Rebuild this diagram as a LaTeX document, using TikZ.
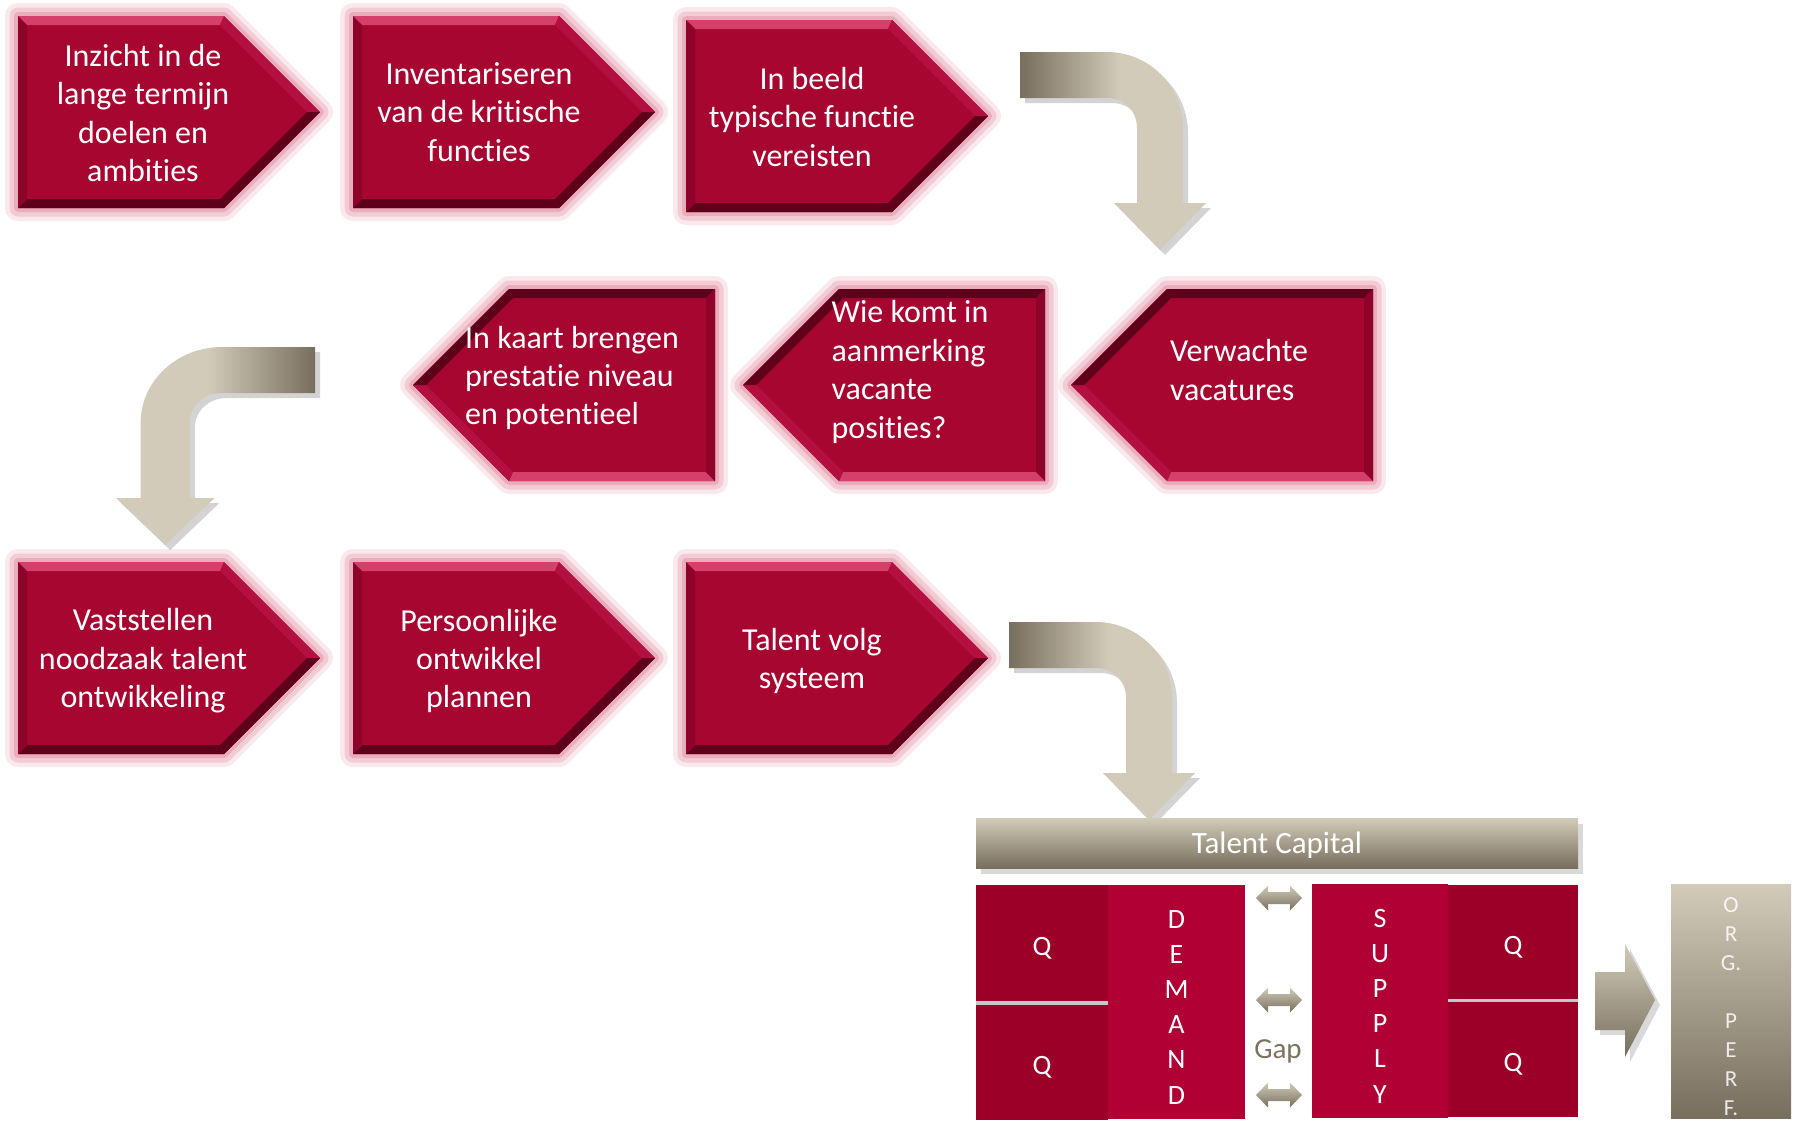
\documentclass[tikz,border=0pt]{standalone}
\usepackage{fontspec}
\setmainfont{Carlito}[Ligatures=NoCommon]
\usetikzlibrary{shadows}

\definecolor{stepred}{HTML}{A60630}
\definecolor{steplight}{HTML}{D4406A}
\definecolor{stepmid}{HTML}{B3103F}
\definecolor{stepdark}{HTML}{5E0019}
\definecolor{stepedge}{HTML}{8E0329}
\definecolor{glowpink}{HTML}{DF8096}
\definecolor{tandark}{HTML}{776E5D}
\definecolor{tanlight}{HTML}{D3CBBA}
\definecolor{qred}{HTML}{9C0029}
\definecolor{colred}{HTML}{B00034}
\definecolor{gaptext}{HTML}{7A715F}

\pgfdeclarehorizontalshading{bendshade}{100bp}{color(0bp)=(tandark); color(25bp)=(tandark); color(52bp)=(tanlight); color(75bp)=(tanlight); color(100bp)=(tanlight)}

\begin{document}
\begin{tikzpicture}[x=1pt, y=-1pt]
        \tikzstyle{glow} = [preaction={draw=glowpink, line width=26pt, line join=round, draw opacity=0.18},
                            preaction={draw=glowpink, line width=17pt, line join=round, draw opacity=0.28},
                            preaction={draw=glowpink, line width=8pt, line join=round, draw opacity=0.4}]
        \tikzstyle{steptext} = [text=white, inner sep=0pt, font=\fontsize{32}{38.4}\selectfont]
        \tikzstyle{bendarrow} = [shading=bendshade, drop shadow={opacity=0.35, shadow xshift=5pt, shadow yshift=-5pt}]
        \tikzstyle{tanbar} = [top color=tanlight, bottom color=tandark, inner sep=0pt, text=white]
        \tikzstyle{qbox} = [fill=qred, text=white, minimum width=132, minimum height=116, inner sep=0pt,
                            text height=24pt, text depth=0pt, font=\fontsize{28}{34}\selectfont]
        \tikzstyle{colbox} = [fill=colred, text=white, minimum width=137, minimum height=234, inner sep=0pt, align=center, font=\fontsize{28}{35.2}\selectfont]

        \useasboundingbox (0,0) rectangle (1797,1128);

        \foreach \i/\px/\py/\dir/\tx/\ty/\txt in {
                1/18/16/0/143/113/{Inzicht in de\\lange termijn\\doelen en\\ambities},
                2/353/16/0/479/112/{Inventariseren\\van de kritische\\functies},
                3/686/20/0/812/117/{In beeld\\typische functie\\vereisten},
                4/1071/289/1/1239/370/{Verwachte\\vacatures},
                5/743/289/1/910/372/{Wie komt in\\aanmerking\\vacante\\posities?},
                6/413/289/1/572/378/{In kaart brengen\\prestatie niveau\\en potentieel},
                7/18/562/0/143/661/{Vaststellen\\noodzaak talent\\ontwikkeling},
                8/353/562/0/479/661/{Persoonlijke\\ontwikkel\\plannen},
                9/686/562/0/812/661/{Talent volg\\systeem}}
        {
                \ifnum \dir = 0
                        \tikzset{stepplace/.style={shift={(\px,\py)}}, stepalign/.style={align=center}}
                \else
                        \tikzset{stepplace/.style={shift={(\px+302,\py+192)}, rotate=180}, stepalign/.style={align=left}}
                \fi
                \begin{scope}[stepplace]
                        \fill[stepred, glow] (0,0) -- (206,0) -- (302,96) -- (206,192) -- (0,192) -- cycle;
                        \fill[steplight] (0,0) -- (206,0) -- (202,9) -- (9,9) -- cycle;
                        \fill[stepdark] (0,192) -- (206,192) -- (202,183) -- (9,183) -- cycle;
                        \fill[stepmid] (206,0) -- (302,96) -- (289,96) -- (202,9) -- cycle;
                        \fill[stepdark] (302,96) -- (206,192) -- (202,183) -- (289,96) -- cycle;
                        \fill[stepedge] (0,0) -- (9,9) -- (9,183) -- (0,192) -- cycle;
                \end{scope}
                \node[steptext, stepalign] (s\i) at (\tx,\ty) {\txt};
        }

        \foreach \bx/\by/\bs/\ba in {1020/52/1/0, 1009/622/1/0, 315/347/-1.07/180}
        {
                \shade[bendarrow, shading angle=\ba, shift={(\bx,\by)}, xscale=\bs] (0,0) -- (87,0) .. controls (129,0) and (163,34) .. (163,76)
                        -- (163,151) -- (186,151) -- (140,198) -- (94,151) -- (117,151) -- (117,76)
                        .. controls (117,59) and (104,46) .. (87,46) -- (0,46) -- cycle;
        }

        \node[tanbar, minimum width=602, minimum height=50, text height=21pt, text depth=0pt, font=\fontsize{31}{36}\selectfont,
              drop shadow={opacity=0.3, shadow xshift=5pt, shadow yshift=-6pt}] (cap) at (1277,843) {Talent Capital};

        \fill[black!22] (976,1001) rectangle (1108,1005);
        \fill[black!22] (1448,999) rectangle (1578,1002);
        \node[qbox] (q1) at (1042,943) {Q};
        \node[qbox, minimum height=115] (q2) at (1042,1062.5) {Q};
        \node[colbox] (dem) at (1176.5,1002) {\rule{0pt}{28pt}D\\E\\M\\A\\N\\D};
        \node[colbox, minimum width=136] (sup) at (1380,1000.5) {\rule{0pt}{29pt}S\\U\\P\\P\\L\\Y};
        \node[qbox, minimum width=130, minimum height=114] (q3) at (1513,942) {Q};
        \node[qbox, minimum width=130, minimum height=115] (q4) at (1513,1059.5) {Q};

        \foreach \gy in {898,1000,1095}
        {
                \shade[top color=tanlight, bottom color=tandark] (1256,\gy) -- (1268,\gy-12.5) -- (1268,\gy-6) -- (1290,\gy-6)
                        -- (1290,\gy-12.5) -- (1302,\gy) -- (1290,\gy+12.5) -- (1290,\gy+6) -- (1268,\gy+6) -- (1268,\gy+12.5) -- cycle;
        }
        \node[text=gaptext, font=\fontsize{29}{34}\selectfont] (gaplbl) at (1278,1051) {Gap};

        \shade[top color=tanlight, bottom color=tandark, drop shadow={opacity=0.3, shadow xshift=5pt, shadow yshift=-5pt}]
                (1595,972) -- (1625,972) -- (1625,944) -- (1655,1000) -- (1625,1057) -- (1625,1030) -- (1595,1030) -- cycle;

        \node[tanbar, minimum width=120, minimum height=234, align=center, text opacity=0.85,
              font=\fontsize{23}{28.9}\selectfont] (org) at (1731,1001) {\rule{0pt}{26pt}O\\R\\G.\\[28.9pt]P\\E\\R\\F.};
\end{tikzpicture}
\end{document}
